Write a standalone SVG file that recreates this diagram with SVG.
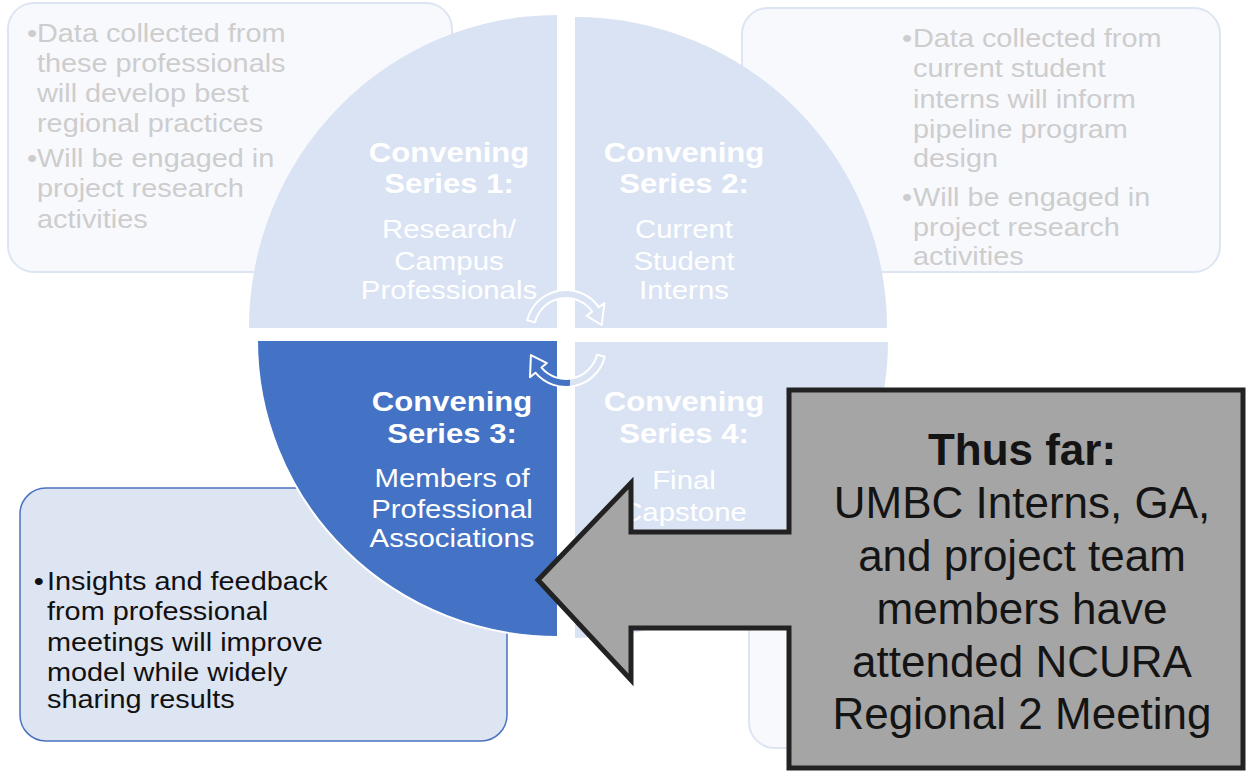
<svg xmlns="http://www.w3.org/2000/svg" width="1246" height="771" viewBox="0 0 1246 771">
<defs>
<style>
.faded{fill:#f8f9fd;stroke:#dde5f3;stroke-width:2}
.ftxt{font-family:"Liberation Sans",Arial,sans-serif;font-size:26px;fill:#cdcdcd}
.btxt{font-family:"Liberation Sans",Arial,sans-serif;font-size:26px;fill:#111}
.ql{fill:#dae3f3}
.qd{fill:#4472c4;stroke:#ffffff;stroke-width:2}
.qb{font-family:"Liberation Sans",Arial,sans-serif;font-size:27.5px;font-weight:bold;fill:#ffffff;text-anchor:middle}
.qr{font-family:"Liberation Sans",Arial,sans-serif;font-size:26px;fill:#ffffff;text-anchor:middle}
.ctxt{font-family:"Liberation Sans",Arial,sans-serif;font-size:44px;fill:#141414;text-anchor:middle}
.arr{stroke:#ffffff;stroke-width:2;stroke-linejoin:round}
</style>
<linearGradient id="lowFill" gradientUnits="userSpaceOnUse" x1="528" y1="0" x2="608" y2="0">
<stop offset="0" stop-color="#4472c4"/>
<stop offset="0.52" stop-color="#4472c4"/>
<stop offset="0.52" stop-color="#dae3f3"/>
<stop offset="1" stop-color="#dae3f3"/>
</linearGradient>
</defs>
<rect width="1246" height="771" fill="#ffffff"/>

<g id="box-top-left">
<rect class="faded" x="8" y="3" width="444" height="269" rx="26"/>
<g transform="translate(37,0) scale(1.11,1)">
<text class="ftxt" x="-9" y="42">•</text>
<text class="ftxt" x="0" y="42">Data collected from</text>
<text class="ftxt" x="0" y="72">these professionals</text>
<text class="ftxt" x="0" y="102">will develop best</text>
<text class="ftxt" x="0" y="132">regional practices</text>
<text class="ftxt" x="-9" y="167">•</text>
<text class="ftxt" x="0" y="167">Will be engaged in</text>
<text class="ftxt" x="0" y="197">project research</text>
<text class="ftxt" x="0" y="228">activities</text>
</g>
</g>

<g id="box-top-right">
<rect class="faded" x="742" y="8" width="478" height="264" rx="26"/>
<g transform="translate(913,0) scale(1.11,1)">
<text class="ftxt" x="-10" y="47">•</text>
<text class="ftxt" x="0" y="47">Data collected from</text>
<text class="ftxt" x="0" y="77">current student</text>
<text class="ftxt" x="0" y="108">interns will inform</text>
<text class="ftxt" x="0" y="138">pipeline program</text>
<text class="ftxt" x="0" y="167">design</text>
<text class="ftxt" x="-10" y="206">•</text>
<text class="ftxt" x="0" y="206">Will be engaged in</text>
<text class="ftxt" x="0" y="236">project research</text>
<text class="ftxt" x="0" y="265">activities</text>
</g>
</g>

<g id="box-bottom-right">
<rect class="faded" x="749" y="488" width="486" height="260" rx="26"/>
</g>

<g id="box-bottom-left">
<rect x="20" y="488" width="487" height="253" rx="26" fill="#dde4f2" stroke="#4a72c0" stroke-width="1.5"/>
<g transform="translate(47,0) scale(1.11,1)">
<text class="btxt" x="-12" y="590">•</text>
<text class="btxt" x="0" y="590">Insights and feedback</text>
<text class="btxt" x="0" y="620">from professional</text>
<text class="btxt" x="0" y="651">meetings will improve</text>
<text class="btxt" x="0" y="681">model while widely</text>
<text class="btxt" x="0" y="708">sharing results</text>
</g>
</g>

<g id="series-1">
<path class="ql" d="M557,328 L249,328 A308 313 0 0 1 557,15 Z"/>
<g transform="translate(449,0) scale(1.13,1)">
<text class="qb" x="0" y="162">Convening</text>
<text class="qb" x="0" y="193">Series 1:</text>
<text class="qr" x="0" y="238">Research/</text>
<text class="qr" x="0" y="270">Campus</text>
<text class="qr" x="0" y="299">Professionals</text>
</g>
</g>

<g id="series-2">
<path class="ql" d="M575,328 L575,17 A312 311 0 0 1 887,328 Z"/>
<g transform="translate(684,0) scale(1.13,1)">
<text class="qb" x="0" y="162">Convening</text>
<text class="qb" x="0" y="193">Series 2:</text>
<text class="qr" x="0" y="238">Current</text>
<text class="qr" x="0" y="270">Student</text>
<text class="qr" x="0" y="299">Interns</text>
</g>
</g>

<g id="series-4">
<path class="ql" d="M575,342 L888,342 A313 296 0 0 1 575,638 Z"/>
<g transform="translate(684,0) scale(1.13,1)">
<text class="qb" x="0" y="411">Convening</text>
<text class="qb" x="0" y="443">Series 4:</text>
<text class="qr" x="0" y="489">Final</text>
<text class="qr" x="0" y="521">Capstone</text>
</g>
</g>

<g id="series-3">
<path class="qd" d="M558,340 L558,637 A301 297 0 0 1 257,340 Z"/>
<g transform="translate(452,0) scale(1.13,1)">
<text class="qb" x="0" y="411">Convening</text>
<text class="qb" x="0" y="443">Series 3:</text>
<text class="qr" x="0" y="487">Members of</text>
<text class="qr" x="0" y="518">Professional</text>
<text class="qr" x="0" y="547">Associations</text>
</g>
</g>

<g id="connectors">
<path class="arr" fill="#dae3f3" d="M535,322.3 L527.2,320.3 A40 40 0 0 1 598.8,307.1 L604.5,303 L601.6,325 L586.5,315.7 L592.2,311.6 A32 32 0 0 0 535,322.3 Z"/>
<path class="arr" fill="url(#lowFill)" d="M597,354.7 L604.8,356.7 A40 40 0 0 1 535.4,372.7 L530,377.2 L530.9,355.1 L546.9,363.1 L541.5,367.6 A32 32 0 0 0 597,354.7 Z"/>
</g>

<g id="callout">
<path d="M1243,390 H789 V532 H631 V483 L538,580 L631,680 V628 H789 V768 H1243 Z" fill="#a5a5a5" stroke="#222222" stroke-width="5" stroke-linejoin="miter"/>
<text class="ctxt" x="1022" y="465" font-weight="bold">Thus far:</text>
<text class="ctxt" x="1022" y="518">UMBC Interns, GA,</text>
<text class="ctxt" x="1022" y="571">and project team</text>
<text class="ctxt" x="1022" y="624">members  have</text>
<text class="ctxt" x="1022" y="677">attended NCURA</text>
<text class="ctxt" x="1022" y="729">Regional 2 Meeting</text>
</g>
</svg>
